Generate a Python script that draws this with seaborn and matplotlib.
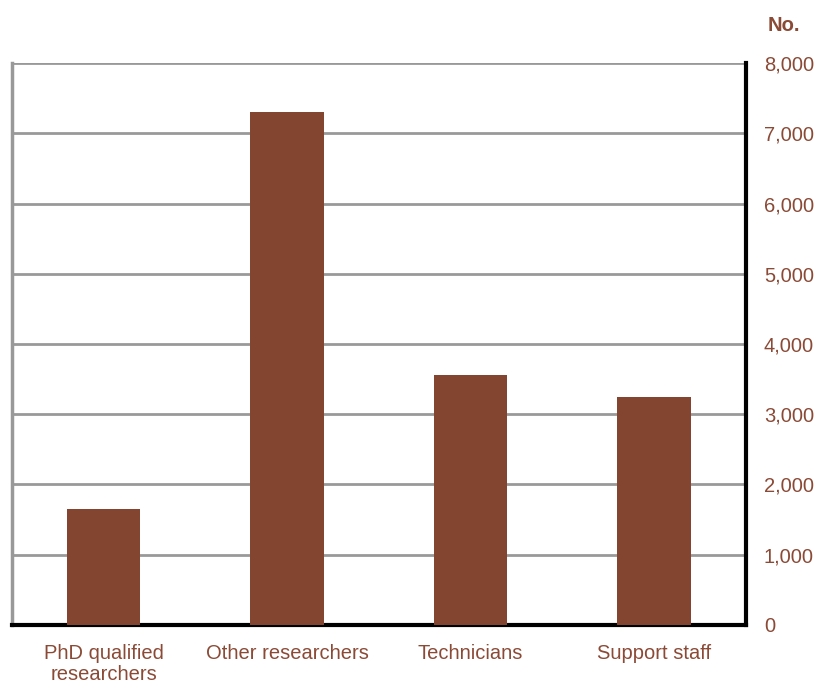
import pandas as pd
import numpy as np
import matplotlib.pyplot as plt
import seaborn as sns

# Data
categories = ["PhD qualified\nresearchers", "Other researchers", "Technicians", "Support staff"]
values = [1650, 7300, 3560, 3245]
yticks = [0, 1000, 2000, 3000, 4000, 5000, 6000, 7000, 8000]

bar_color = "#83452F"
text_color = "#8B4A36"

sns.set_style("white")
plt.rcParams['font.family'] = ['Liberation Sans', 'DejaVu Sans']

df = pd.DataFrame({"category": categories, "value": values})

fig = plt.figure(figsize=(8.18, 6.86), dpi=100)
ax = fig.add_axes([0.0147, 0.089, 0.897, 0.819])

sns.barplot(data=df, x="category", y="value", color=bar_color,
            saturation=1, width=0.4, linewidth=0, edgecolor=bar_color,
            ax=ax, zorder=3)

ax.set_ylim(0, 8000)
ax.set_xlim(-0.5, 3.5)
ax.set_yticks(yticks)
ax.yaxis.tick_right()
ax.set_yticklabels([f"{v:,}" for v in yticks], color=text_color, fontsize=14.5)
ax.tick_params(axis="y", length=0, pad=13)
ax.tick_params(axis="x", length=0, pad=14, labelsize=14.5, labelcolor=text_color)
ax.set_xlabel("")
ax.set_ylabel("")

ax.grid(axis="y", color="#999999", linewidth=2, zorder=0)
ax.set_axisbelow(True)

ax.spines["top"].set_visible(False)
ax.spines["left"].set_color("#999999")
ax.spines["left"].set_linewidth(2.5)
ax.spines["bottom"].set_color("black")
ax.spines["bottom"].set_linewidth(3)
ax.spines["right"].set_color("black")
ax.spines["right"].set_linewidth(3)

for lbl in ax.get_xticklabels():
    lbl.set_linespacing(1.12)
    lbl.set_va("top")

fig.text(0.938, 0.955, "No.", color=text_color, fontsize=14.5, fontweight="bold")

fig.savefig("out.png", dpi=100)
